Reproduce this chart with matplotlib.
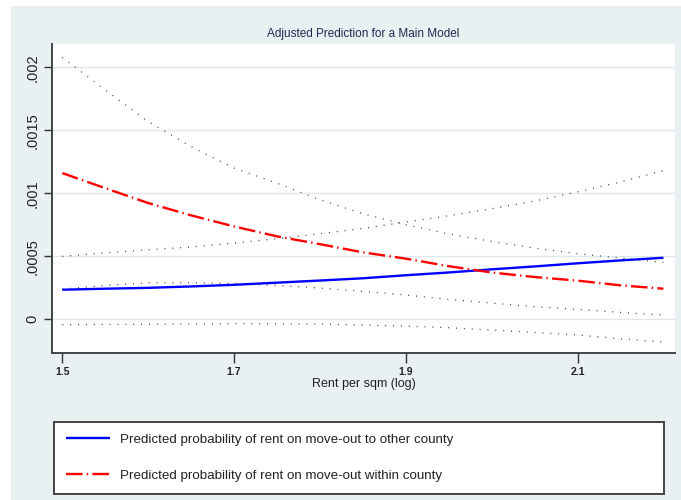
import matplotlib
matplotlib.use("Agg")
import matplotlib.pyplot as plt
from matplotlib.patches import Rectangle

plt.rcParams['font.family'] = ['Liberation Sans', 'DejaVu Sans']

# rent per sqm (log)
rent = [1.50, 1.55, 1.60, 1.65, 1.70, 1.75, 1.80, 1.85, 1.90, 1.95, 2.00, 2.05, 2.10, 2.15, 2.20]

# move-out to other county (blue) with confidence band
other_est = [0.000233, 0.000241, 0.000248, 0.000259, 0.000272, 0.000289, 0.000306, 0.000324,
             0.000348, 0.000370, 0.000395, 0.000418, 0.000443, 0.000466, 0.000487]
other_hi = [0.000498, 0.000525, 0.000551, 0.000572, 0.000604, 0.000638, 0.000678, 0.000720,
            0.000771, 0.000821, 0.000877, 0.000938, 0.001010, 0.001090, 0.001180]
other_lo = [-0.000045, -0.000043, -0.000042, -0.000040, -0.000037, -0.000038, -0.000040, -0.000048,
            -0.000056, -0.000069, -0.000088, -0.000106, -0.000127, -0.000157, -0.000183]

# move-out within county (red) with confidence band
within_est = [0.001160, 0.001040, 0.000922, 0.000824, 0.000736, 0.000657, 0.000595, 0.000530,
              0.000480, 0.000420, 0.000370, 0.000334, 0.000305, 0.000268, 0.000241]
within_hi = [0.002080, 0.001820, 0.001570, 0.001370, 0.001200, 0.001080, 0.000948, 0.000837,
             0.000750, 0.000676, 0.000617, 0.000564, 0.000519, 0.000485, 0.000450]
within_lo = [0.000238, 0.000267, 0.000288, 0.000288, 0.000283, 0.000267, 0.000246, 0.000220,
             0.000191, 0.000156, 0.000127, 0.000098, 0.000076, 0.000053, 0.000032]

yticks = [0, 0.0005, 0.001, 0.0015, 0.002]
ytick_labels = ["0", ".0005", ".001", ".0015", ".002"]
xticks = [1.5, 1.7, 1.9, 2.1]
xtick_labels = ["1.5", "1.7", "1.9", "2.1"]

fig = plt.figure(figsize=(6.81, 5.0), dpi=100, facecolor="white")
# light graph-region background (white strip on left and top like the screenshot)
fig.patches.append(Rectangle((11/681, 0), 1 - 11/681, 494/500, transform=fig.transFigure,
                             facecolor="#e8f0f2", edgecolor="none", zorder=-10))

ax = fig.add_axes([52/681, 147/500, 623/681, 309/500])
ax.set_zorder(2)
ax.set_facecolor("white")

dot_style = (0, (0.8, 5.5))
for band in [within_hi, within_lo, other_hi, other_lo]:
    ax.plot(rent, band, color="#3a3a3a", lw=0.9, linestyle=dot_style)

l1, = ax.plot(rent, other_est, color="#0000ff", lw=1.7, solid_capstyle="butt",
              label="Predicted probability of rent on move-out to other county")
l2, = ax.plot(rent, within_est, color="#ff0000", lw=1.7, linestyle=(0, (7, 1.8, 0.6, 1.8)),
              label="Predicted probability of rent on move-out within county")

ax.set_xlim(1.488, 2.2135)
ax.set_ylim(-0.00027, 0.002186)

ax.set_yticks(yticks)
ax.set_yticklabels(ytick_labels, rotation=90, va="center", fontsize=10.5, color="#222222")
ax.set_xticks(xticks)
ax.set_xticklabels(xtick_labels, fontsize=7.5, fontweight="bold", color="#222222")
ax.tick_params(axis="y", length=6, width=1, color="#333333", pad=3)
ax.tick_params(axis="x", length=7, width=1, color="#333333", pad=3)

ax.grid(axis="y", color="#dce8eb", lw=1)
ax.set_axisbelow(True)
for s in ["top", "right"]:
    ax.spines[s].set_visible(False)
for s in ["left", "bottom"]:
    ax.spines[s].set_color("#444444")
    ax.spines[s].set_linewidth(1.4)

ax.set_title("Adjusted Prediction for a Main Model", fontsize=8.5, color="#1e2b4f", pad=5)
ax.set_xlabel("Rent per sqm (log)", fontsize=9, color="#222222", labelpad=1)

leg = fig.legend(handles=[l1, l2], loc="upper left",
                 bbox_to_anchor=(47/681, 85/500, 624/681, 0.0), mode="expand",
                 fontsize=9.6, handlelength=3.3, handletextpad=0.8, labelspacing=1.75,
                 borderpad=0.9, frameon=True, fancybox=False, framealpha=1)
leg.get_frame().set_edgecolor("#444444")
leg.get_frame().set_linewidth(1.4)
for t in leg.get_texts():
    t.set_color("#222222")

fig.savefig("out.png", dpi=100, facecolor=fig.get_facecolor())
